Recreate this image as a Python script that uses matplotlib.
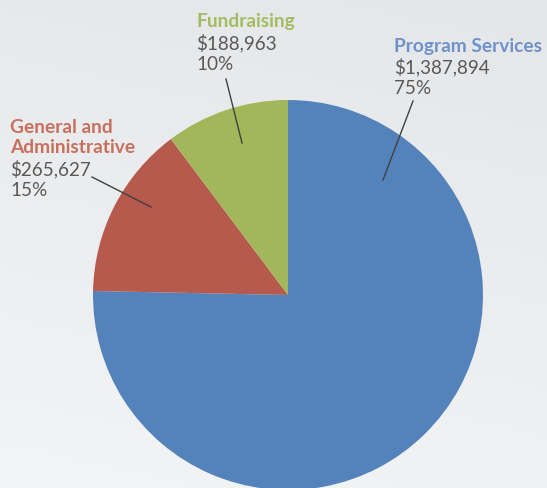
import matplotlib
matplotlib.use("Agg")
import matplotlib.pyplot as plt
import numpy as np
from matplotlib.colors import LinearSegmentedColormap

categories = ["Program Services", "General and\nAdministrative", "Fundraising"]
values = [1387894, 265627, 188963]
value_labels = ["$1,387,894", "$265,627", "$188,963"]
pct_labels = ["75%", "15%", "10%"]

slice_colors = ["#5483BC", "#B55A4D", "#A1B75A"]
title_colors = ["#6E92C9", "#C8705E", "#A2BC62"]
text_gray = "#595959"
bg = "#EEEFF1"

W, H = 547, 489
fig = plt.figure(figsize=(W / 100, H / 100), dpi=100, facecolor=bg)
ax = fig.add_axes([0, 0, 1, 1])
ax.set_facecolor(bg)

# background gradient (light top-left to slightly darker bottom)
cmap = LinearSegmentedColormap.from_list("bg", ["#F3F4F6", "#E5E6E8"])
gy, gx = np.mgrid[0:1:100j, 0:1:100j]
grad = 0.8 * gy + 0.2 * gx
ax.imshow(grad, cmap=cmap, extent=(0, W, H, 0), origin="upper",
          aspect="auto", zorder=0)

def Y(y):
    return H - y

ax.pie(values, colors=slice_colors, startangle=90, counterclock=False,
       center=(288, Y(296)), radius=195, frame=True,
       wedgeprops=dict(linewidth=0, zorder=2))
ax.set_xlim(0, W)
ax.set_ylim(0, H)
ax.set_aspect("equal")
ax.axis("off")

font = "Lato"
fs_title = 13.8
fs_text = 13.6

layouts = [
    (394, [52], 73, 94, ((413, 102), (383, 181))),
    (10, [133, 153], 175, 196, ((92, 178), (151, 208))),
    (196, [27], 49, 70, ((226, 80), (242, 144))),
]

for i, (x, tys, vy, py, line) in enumerate(layouts):
    for ln, ty in zip(categories[i].split("\n"), tys):
        ax.text(x, Y(ty), ln, color=title_colors[i], fontsize=fs_title,
                fontweight="bold", family=font, va="baseline", ha="left",
                zorder=4)
    ax.text(x, Y(vy), value_labels[i], color=text_gray, fontsize=fs_text,
            family=font, va="baseline", ha="left", zorder=4)
    ax.text(x, Y(py), pct_labels[i], color=text_gray, fontsize=fs_text,
            family=font, va="baseline", ha="left", zorder=4)
    (x0, y0), (x1, y1) = line
    ax.plot([x0, x1], [Y(y0), Y(y1)], color="#404040", lw=1.0, zorder=3)

fig.savefig("out.png", dpi=100, facecolor=bg)
